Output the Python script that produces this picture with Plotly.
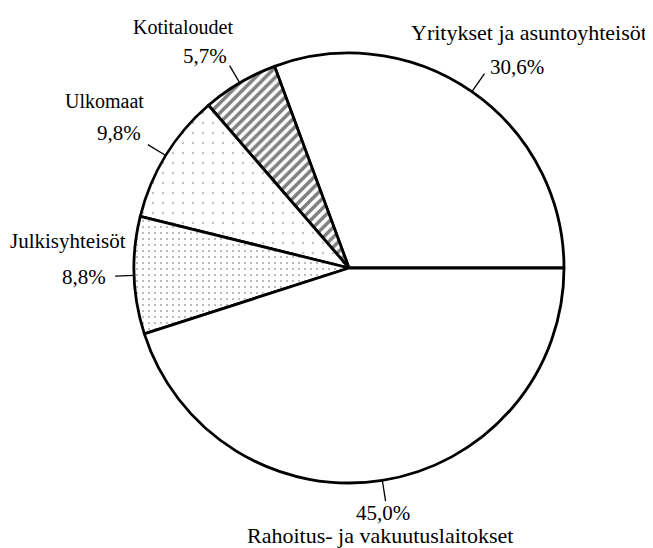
import math
import plotly.graph_objects as go

# ---- data ----
labels = ["Yritykset ja asuntoyhteisöt", "Kotitaloudet", "Ulkomaat",
          "Julkisyhteisöt", "Rahoitus- ja vakuutuslaitokset"]
values = [30.6, 5.7, 9.8, 8.8, 45.0]
pct_text = ["30,6%", "5,7%", "9,8%", "8,8%", "45,0%"]

# ---- layout constants (pixels, in page/screen coordinates) ----
W, H = 645, 540          # figure size (page body has an 8px margin)
OFF = 8
CX, CY, R = 349, 268, 215
FONT = "Liberation Serif, Times New Roman, serif"

def px(x):
    return (x - OFF) / W

def py(y):
    return 1 - (y - OFF) / H

total = sum(values)
# first slice spans 0..(v0/total*360) degrees counterclockwise from 3 o'clock
rotation = 90 - 360 * values[0] / total

shapes_pat = ["", "/", ".", ".", ""]
pat_size = [6, 7, 10, 6, 6]
pat_sol = [0.05, 0.5, 0.05, 0.1, 0.05]
pat_fg = ["#bbbbbb", "#000000", "#888888", "#555555", "#dddddd"]

fig = go.Figure(go.Pie(
    labels=labels, values=values, sort=False,
    direction="counterclockwise", rotation=rotation,
    textinfo="none", hoverinfo="label+percent", showlegend=False,
    domain=dict(x=[px(CX - R), px(CX + R)], y=[py(CY + R), py(CY - R)]),
    marker=dict(colors=["white"] * 5,
                line=dict(color="black", width=2.8),
                pattern=dict(shape=shapes_pat, size=pat_size,
                             solidity=pat_sol, fgcolor=pat_fg,
                             bgcolor=["white"] * 5, fillmode="overlay")),
))

# leader lines derived from slice mid-angles
cum = 0
mids = []
for v in values:
    mids.append((cum + v / 2) / total * 360)
    cum += v

lead_len = [22, 20, 21, 19, 21]
shapes = []
for m, L in zip(mids, lead_len):
    a = math.radians(m)
    x0 = CX + R * math.cos(a)
    y0 = CY - R * math.sin(a)
    x1 = CX + (R + L) * math.cos(a)
    y1 = CY - (R + L) * math.sin(a)
    shapes.append(dict(type="line", xref="paper", yref="paper",
                       x0=px(x0), y0=py(y0), x1=px(x1), y1=py(y1),
                       line=dict(color="black", width=1.3)))

# label text positions (screen pixels): (x, y, anchor)
name_pos = [(529, 33, "center"), (183, 27, "center"), (146, 101, "right"),
            (128, 241, "right"), (380, 535, "center")]
pct_pos = [(517, 67, "center"), (205, 56, "center"), (143, 133, "right"),
           (108, 277, "right"), (383, 513, "center")]
name_size = [22, 20, 20, 21, 22]

ann = []
for i in range(len(labels)):
    nx, ny, na = name_pos[i]
    ann.append(dict(text=labels[i], x=px(nx), y=py(ny), xref="paper",
                    yref="paper", xanchor=na, yanchor="middle",
                    showarrow=False,
                    font=dict(family=FONT, size=name_size[i], color="#000")))
    tx, ty, ta = pct_pos[i]
    ann.append(dict(text=pct_text[i], x=px(tx), y=py(ty), xref="paper",
                    yref="paper", xanchor=ta, yanchor="middle",
                    showarrow=False,
                    font=dict(family=FONT, size=21, color="#000")))

fig.update_layout(width=W, height=H, margin=dict(l=0, r=0, t=0, b=0),
                  paper_bgcolor="white", plot_bgcolor="white",
                  shapes=shapes, annotations=ann)

fig.write_html("out.html")
